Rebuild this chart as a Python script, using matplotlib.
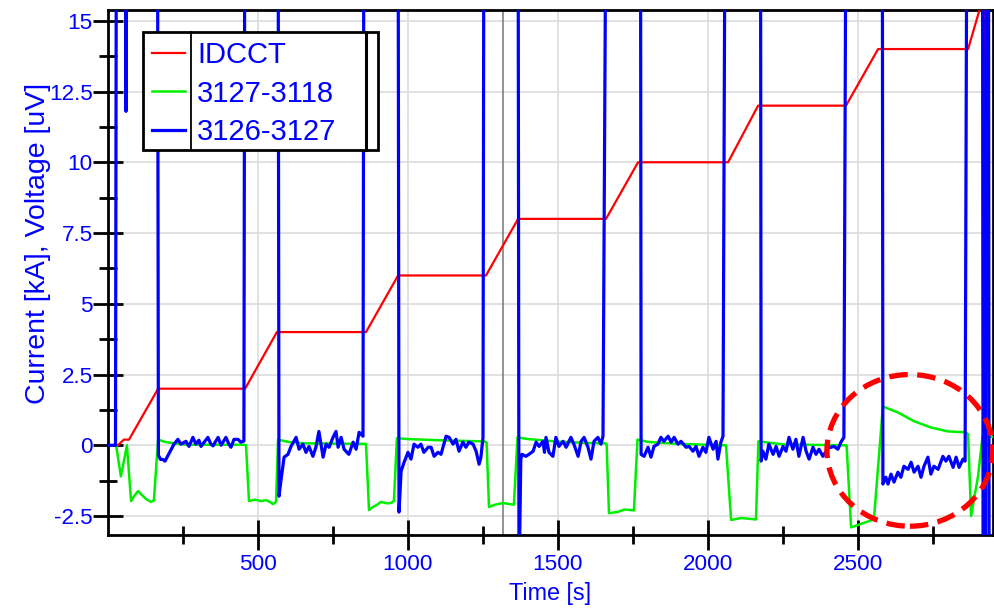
import matplotlib
matplotlib.use("Agg")
import matplotlib.pyplot as plt
from matplotlib.patches import Ellipse, Rectangle
from matplotlib.lines import Line2D
from matplotlib.ticker import FixedLocator, MultipleLocator, FuncFormatter

plt.rcParams['font.family'] = ['Liberation Sans', 'DejaVu Sans']

# IDCCT current [kA]
t_idcct = [0, 33, 53, 70, 167, 457, 563, 860, 967, 1260, 1367, 1660, 1767, 2067,
           2167, 2460, 2567, 2867, 2922, 2926, 2950]
i_idcct = [0, 0, 0.2, 0.2, 2, 2, 4, 4, 6, 6, 8, 8, 10, 10,
           12, 12, 14, 14, 16, 0, 0]

# 3127-3118 voltage [uV]
t_v1 = [0, 27, 43, 63, 77, 87, 100, 117, 127, 143, 153, 167,
        190, 217, 260, 453,
        460, 470, 490, 510, 527, 540, 550, 560, 567,
        600, 650, 853,
        860, 870, 883, 897, 910, 930, 943, 953, 963,
        1000, 1100, 1200, 1253,
        1262, 1270, 1290, 1317, 1340, 1353, 1365,
        1400, 1500, 1600, 1657,
        1662, 1670, 1700, 1723, 1753, 1765,
        1800, 1900, 2057,
        2060, 2077, 2110, 2160, 2168,
        2250, 2458,
        2462, 2477, 2553, 2583,
        2633, 2687, 2743, 2800, 2857,
        2867, 2877, 2900, 2915, 2950]
v1 = [0, 0, -1.1, 0, -1.97, -1.8, -1.62, -1.8, -1.9, -2.0, -1.95, 0.2,
      0.12, 0.07, 0.02, 0.02,
      0.0, -1.97, -1.92, -1.97, -1.94, -2.0, -2.08, -2.0, 0.2,
      0.12, 0.07, 0.05,
      0.05, -2.29, -2.18, -2.1, -2.0, -2.05, -2.04, -1.97, 0.25,
      0.22, 0.18, 0.15, 0.14,
      0.1, -2.18, -2.1, -2.04, -2.08, -2.1, 0.28,
      0.22, 0.13, 0.08, 0.07,
      0.05, -2.4, -2.35, -2.27, -2.3, 0.2,
      0.12, 0.05, 0.0,
      0.0, -2.64, -2.57, -2.62, 0.14,
      0.03, 0.0,
      0.0, -2.9, -2.62, 1.37,
      1.16, 0.85, 0.63, 0.49, 0.46,
      0.4, -2.5, -1.1, 0.3, 0.3]

# 3126-3127 voltage [uV] (20 / -5 = off scale)
t_v2 = [0, 25, 28, 57, 60, 63, 165,
        168, 175, 183, 190, 203, 220, 233, 243, 260, 270, 283, 293, 303, 310,
        333, 343, 350, 367, 377, 393, 403, 410, 420, 433, 443, 453, 456,
        567, 570, 577, 583, 587, 600, 610, 627, 637, 650, 660, 670, 683, 693,
        703, 717, 727, 737, 750, 760, 767, 777, 787, 803, 817, 827, 837, 850, 853,
        967, 970, 977, 987, 1000, 1010, 1020, 1033, 1043, 1053, 1067, 1077, 1087,
        1100, 1110, 1127, 1137, 1150, 1160, 1170, 1183, 1193, 1203, 1217, 1227,
        1237, 1243, 1250, 1253,
        1367, 1370, 1376, 1380, 1393, 1403, 1417, 1427, 1437, 1450, 1455, 1460,
        1470, 1483, 1493, 1503, 1517, 1527, 1543, 1553, 1567, 1577, 1587, 1600,
        1610, 1620, 1633, 1643, 1650, 1660,
        1775, 1777, 1787, 1800, 1810, 1820, 1833, 1843, 1853, 1867, 1877, 1887,
        1900, 1910, 1927, 1937, 1950, 1960, 1970, 1983, 1993, 2003, 2017, 2027,
        2033, 2043, 2050, 2057,
        2175, 2177, 2183, 2193, 2203, 2217, 2227, 2237, 2250, 2260, 2270, 2283,
        2293, 2303, 2317, 2327, 2337, 2350, 2360, 2370, 2383, 2400, 2420, 2433,
        2443, 2453, 2460,
        2581, 2583, 2593, 2600, 2610, 2620, 2633, 2643, 2653, 2667, 2677, 2687,
        2700, 2710, 2720, 2733, 2743, 2753, 2767, 2783, 2793, 2803, 2817, 2827,
        2837, 2850, 2857, 2863,
        2915, 2917, 2925, 2927, 2935, 2937, 2950]
v2 = [0, 0, 20, 20, 11.8, 20, 20,
      -0.35, -0.5, -0.5, -0.56, -0.3, 0.04, 0.21, 0.04, 0.14, -0.04, 0.28, 0.04, 0.18, -0.04,
      0.28, 0.04, -0.02, 0.28, 0.0, 0.28, 0.04, -0.07, 0.21, 0.21, 0.11, 0.15, 20,
      20, -1.8, -1.2, -0.74, -0.42, -0.32, -0.04, 0.28, -0.14, 0.04, -0.25, -0.04, -0.39, -0.07,
      0.49, -0.42, 0.04, -0.07, 0.28, 0.49, -0.07, 0.28, -0.14, -0.32, 0.11, -0.14, 0.46, 0.32, 20,
      20, -2.36, -0.92, -0.6, -0.25, -0.49, 0.04, -0.07, 0.04, -0.25, -0.07, -0.07, -0.39,
      -0.25, -0.32, 0.32, 0.28, 0.04, 0.21, -0.21, 0.11, -0.07, 0.11, 0.04, -0.21,
      -0.67, -0.42, 0.28, 20,
      20, -5, -0.5, -0.32, -0.39, -0.32, -0.21, 0.11, -0.04, 0.14, -0.25, 0.28,
      -0.25, -0.39, 0.28, -0.04, 0.14, -0.07, 0.28, 0.04, -0.39, 0.14, 0.28, -0.07,
      -0.49, 0.14, 0.28, 0.04, 0.32, 20,
      20, -0.32, -0.39, -0.07, -0.42, -0.04, 0.04, 0.28, 0.14, 0.32, 0.11, 0.28,
      0.04, 0.14, -0.07, -0.04, -0.21, -0.04, -0.39, -0.07, -0.25, 0.28, -0.14, 0.14,
      -0.49, 0.11, 0.32, 20,
      20, -0.56, -0.21, -0.49, 0.04, -0.32, -0.04, -0.39, -0.04, -0.21, 0.28, -0.14,
      0.21, -0.39, 0.28, -0.21, -0.49, -0.07, -0.32, -0.14, -0.39, -0.1, -0.04, -0.14,
      0.11, 0.28, 20,
      20, -1.37, -1.13, -1.37, -1.02, -1.3, -0.95, -1.13, -0.74, -0.85, -0.6, -0.95,
      -0.74, -1.13, -0.74, -0.42, -1.02, -0.74, -0.85, -0.39, -0.56, -0.39, -0.78, -0.42,
      -0.78, -0.49, -0.56, 20,
      20, -5, -5, 20, 20, -5, -5]

labels = ['IDCCT', '3127-3118', '3126-3127']
colors = ['#ff0000', '#00ee00', '#0000ff']
cursor_t = 1317
x_major = [500, 1000, 1500, 2000, 2500]
x_minor = [250, 750, 1250, 1750, 2250, 2750]

fig = plt.figure(figsize=(9.95, 6.09), dpi=100)
ax = fig.add_axes([108 / 995, 74 / 609, 885 / 995, 525 / 609])

ax.plot(t_idcct, i_idcct, color=colors[0], lw=1.6, label=labels[0], zorder=3)
ax.plot(t_v1, v1, color=colors[1], lw=1.8, label=labels[1], zorder=3)
ax.plot(t_v2, v2, color=colors[2], lw=2.3, label=labels[2], zorder=4)
ax.axvline(cursor_t, color='#808080', lw=1.2, zorder=2)

ax.set_xlim(0, 2950)
ax.set_ylim(-3.17, 15.38)

ax.xaxis.set_major_locator(FixedLocator(x_major))
ax.xaxis.set_minor_locator(FixedLocator(x_minor))
ax.yaxis.set_major_locator(MultipleLocator(2.5))
ax.yaxis.set_minor_locator(MultipleLocator(1.25))
ax.yaxis.set_major_formatter(FuncFormatter(lambda v, p: f'{v:g}'))
ax.xaxis.set_major_formatter(FuncFormatter(lambda v, p: f'{v:g}'))

ax.tick_params(which='major', direction='inout', length=21, width=2,
               labelsize=16.2, labelcolor='#0000ff')
ax.tick_params(axis='x', which='major', pad=3)
ax.tick_params(axis='y', which='major', pad=0.5)
ax.tick_params(which='minor', direction='inout', length=13, width=2)
ax.grid(True, which='major', color='#dcdcdc', lw=1.2, zorder=0)
ax.set_axisbelow(True)
for s in ax.spines.values():
    s.set_linewidth(2)

ax.set_xlabel('Time [s]', fontsize=16.8, color='#0000ff', labelpad=5)
ax.set_ylabel('Current [kA], Voltage [uV]', fontsize=20.5, color='#0000ff')
ax.yaxis.set_label_coords(-0.064, 0.556)

# legend box with the divider lines
box = Rectangle((0.0395, 0.733), 0.2655, 0.225, transform=ax.transAxes,
                facecolor='white', edgecolor='black', lw=2, zorder=6)
ax.add_patch(box)
ax.add_line(Line2D([0.0938, 0.0938], [0.733, 0.958], transform=ax.transAxes,
                   color='black', lw=1.3, zorder=7))
ax.add_line(Line2D([0.2915, 0.2915], [0.733, 0.958], transform=ax.transAxes,
                   color='black', lw=2.2, zorder=7))
leg = ax.legend(loc='upper left', bbox_to_anchor=(0.0395, 0.958), frameon=False,
                fontsize=21, handlelength=1.15, handletextpad=0.4,
                labelspacing=0.37, borderaxespad=0, borderpad=0.3)
for txt in leg.get_texts():
    txt.set_color('#0000ff')
leg.set_zorder(8)

ax.add_patch(Ellipse((2673, -0.18), 553, 5.36, fill=False, edgecolor='#ff0000',
                     lw=3.8, linestyle=(0, (3.5, 1.8)), zorder=9, clip_on=False))

fig.savefig('out.png', dpi=100)
